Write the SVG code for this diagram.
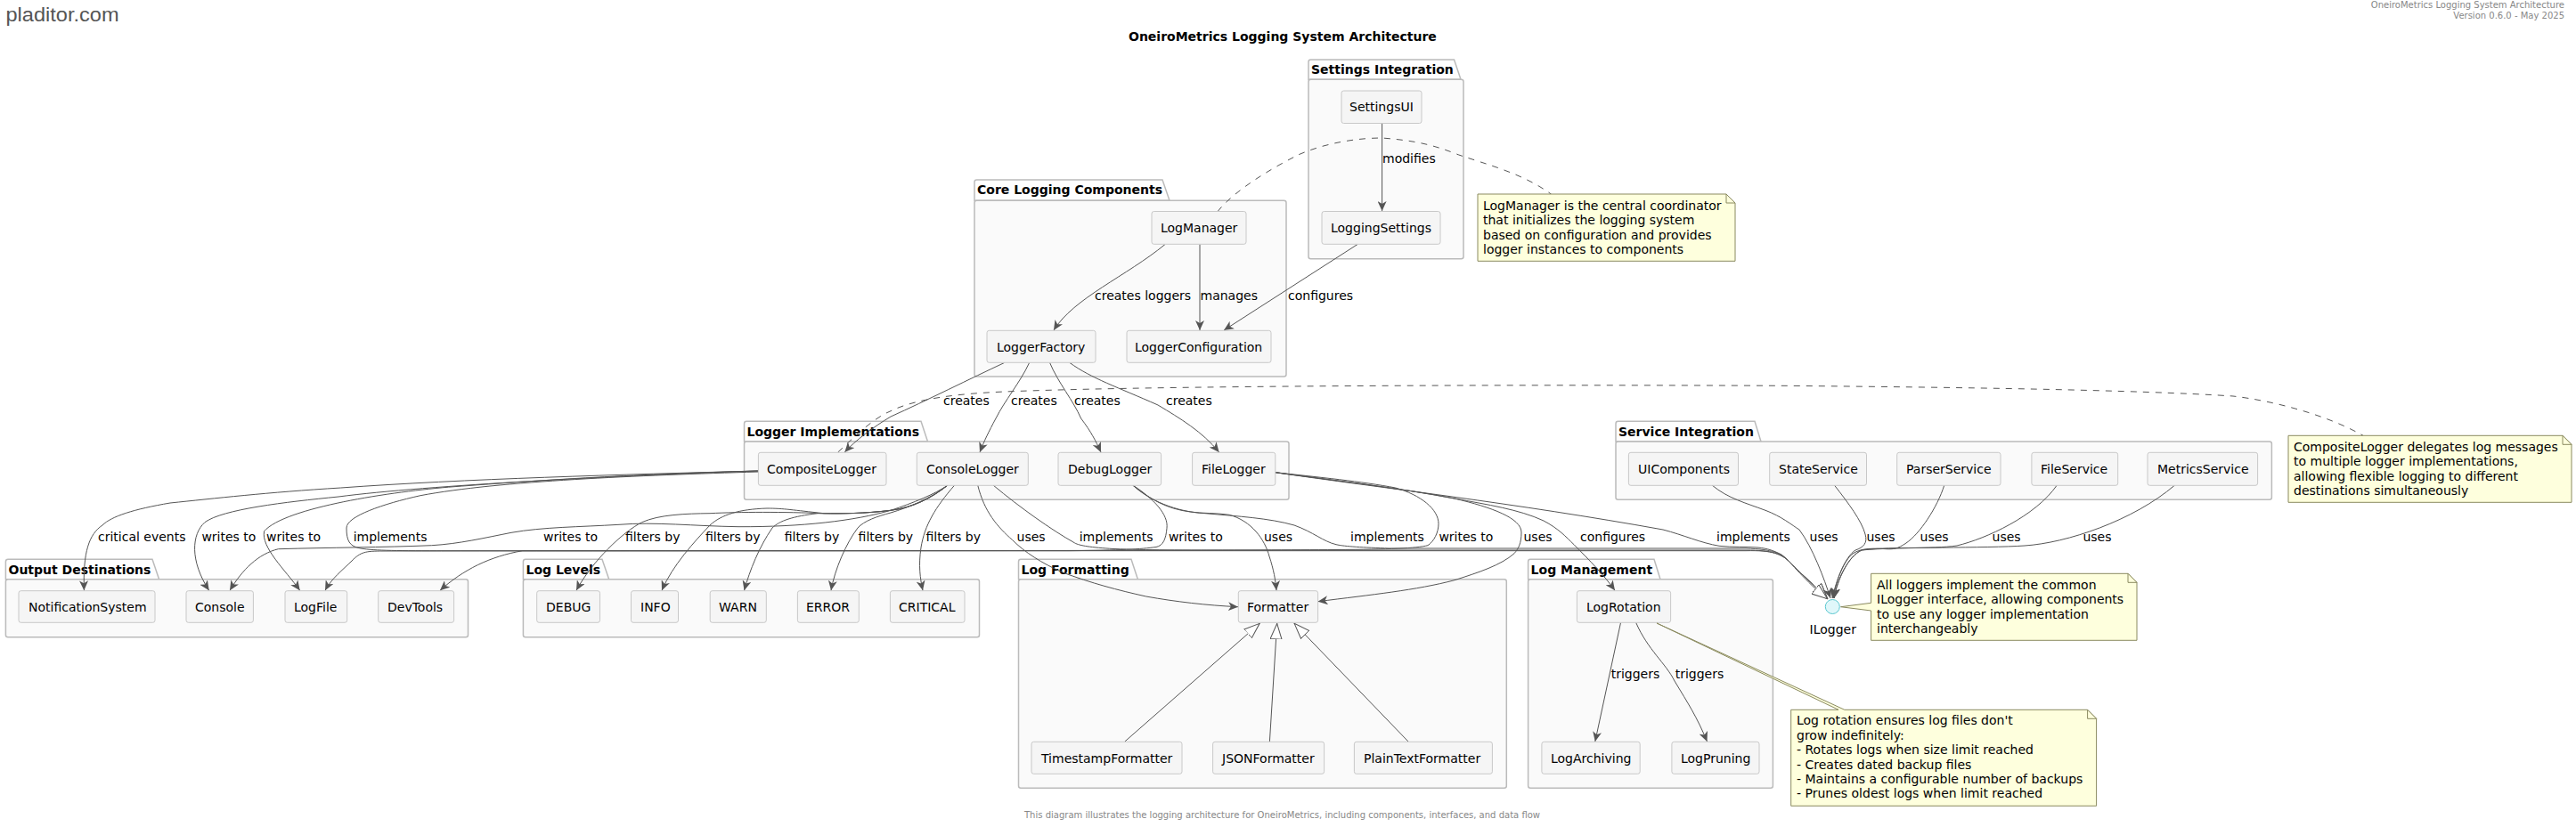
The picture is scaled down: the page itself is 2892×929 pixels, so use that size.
<svg xmlns="http://www.w3.org/2000/svg" width="2892" height="929" viewBox="0 0 2892 929">
<defs>
<style>
text{font-family:"DejaVu Sans",sans-serif;font-size:14px;fill:#000}
.pkg{fill:#FAFAFA;stroke:#BBB;stroke-width:1.5}
.tab{fill:#FEFEFE;stroke:#BBB;stroke-width:1.5}
.pt{font-weight:bold}
.n rect{fill:#F5F5F5;stroke:#C8C8C8;stroke-width:1}
.note{fill:#FEFFDD;stroke:#8A8A60;stroke-width:1}
.c path{fill:none;stroke:#555;stroke-width:1}
.c .d{stroke-dasharray:7,7;marker-end:none}
.a{marker-end:url(#ah)}
.h{marker-end:url(#tri)}
.g{font-size:10px;fill:#888}
</style>
<marker id="ah" viewBox="0 0 12 10" refX="11" refY="5" markerWidth="12" markerHeight="10" markerUnits="userSpaceOnUse" orient="auto"><path d="M0,0 L11,5 L0,10 L3,5 Z" fill="#555"/></marker>
<marker id="tri" viewBox="0 0 18 14" refX="18" refY="7" markerWidth="18" markerHeight="14" markerUnits="userSpaceOnUse" orient="auto"><path d="M0,0.5 L17.5,7 L0,13.5 Z" fill="#fff" stroke="#555"/></marker>
</defs>
<rect width="2892" height="929" fill="#fff"/>
<text x="6.5" y="24" style="font-family:'Liberation Sans',sans-serif;font-size:22.5px;fill:#555" textLength="127" lengthAdjust="spacingAndGlyphs">pladitor.com</text>
<text x="2879" y="9" text-anchor="end" class="g">OneiroMetrics Logging System Architecture</text>
<text x="2879" y="21" text-anchor="end" class="g">Version 0.6.0 - May 2025</text>
<text x="1267" y="46" class="pt">OneiroMetrics Logging System Architecture</text>
<text x="1150" y="919" class="g" textLength="579">This diagram illustrates the logging architecture for OneiroMetrics, including components, interfaces, and data flow</text>

<g id="pkg-settings"><path class="tab" d="M1469,89.3 V69.5 Q1469,67 1471.5,67 H1632.5 L1640,89.3 Z"/><rect class="pkg" x="1469" y="89.3" width="174" height="201.4" rx="2.5"/><text class="pt" x="1472" y="83">Settings Integration</text></g>
<g id="pkg-core"><path class="tab" d="M1094,225.3 V204.5 Q1094,202 1096.5,202 H1305 L1313,225.3 Z"/><rect class="pkg" x="1094" y="225.3" width="350" height="197.7" rx="2.5"/><text class="pt" x="1097" y="218">Core Logging Components</text></g>
<g id="pkg-impl"><path class="tab" d="M835.5,496 V476 Q835.5,473.3 838,473.3 H1034 L1041.5,496 Z"/><rect class="pkg" x="835.5" y="496" width="611.5" height="65.3" rx="2.5"/><text class="pt" x="838.5" y="490">Logger Implementations</text></g>
<g id="pkg-service"><path class="tab" d="M1814,496 V476 Q1814,473.3 1816.5,473.3 H1970 L1977,496 Z"/><rect class="pkg" x="1814" y="496" width="736.4" height="65.3" rx="2.5"/><text class="pt" x="1817" y="490">Service Integration</text></g>
<g id="pkg-output"><path class="tab" d="M6.4,650.7 V631 Q6.4,628.3 9,628.3 H171 L178.6,650.7 Z"/><rect class="pkg" x="6.4" y="650.7" width="519.1" height="65" rx="2.5"/><text class="pt" x="9.5" y="645">Output Destinations</text></g>
<g id="pkg-levels"><path class="tab" d="M587.4,650.7 V631 Q587.4,628.3 590,628.3 H676 L683.7,650.7 Z"/><rect class="pkg" x="587.4" y="650.7" width="512.1" height="65" rx="2.5"/><text class="pt" x="590.5" y="645">Log Levels</text></g>
<g id="pkg-format"><path class="tab" d="M1143.5,650.7 V631 Q1143.5,628.3 1146,628.3 H1270 L1277.4,650.7 Z"/><rect class="pkg" x="1143.5" y="650.7" width="547.8" height="234.6" rx="2.5"/><text class="pt" x="1146.5" y="645">Log Formatting</text></g>
<g id="pkg-mgmt"><path class="tab" d="M1715.6,650.7 V631 Q1715.6,628.3 1718,628.3 H1857 L1864,650.7 Z"/><rect class="pkg" x="1715.6" y="650.7" width="274.8" height="234.6" rx="2.5"/><text class="pt" x="1718.6" y="645">Log Management</text></g>

<g id="connectors" class="c">
<path class="a" d="M1551.6,138.5 V237"/>
<path class="a" d="M1308,274.5 C1265,310 1205,335 1183,371"/>
<path class="a" d="M1347,274.5 V371"/>
<path class="a" d="M1524,274.5 L1374,371"/>
<path class="d" d="M1367,237.5 C1385,215 1425,190 1459,173.3 C1490,160 1525,155 1551.6,155 C1590,158 1610,163 1637.8,174 C1670,185 1710,195 1741.7,218.3"/>
<path class="a" d="M1127.5,407.5 C1090,425 1040,450 1000,468 C980,480 960,495 948.3,508"/>
<path class="a" d="M1155.6,407.5 C1145,430 1128,450 1118,470 C1110,485 1105,495 1100,508"/>
<path class="a" d="M1178.6,407.5 C1188,430 1205,450 1213.6,470 C1225,485 1230,495 1236,508"/>
<path class="a" d="M1201,407.5 C1225,425 1255,435 1300,455 C1325,470 1350,485 1368.6,508"/>
<path class="d" d="M940.7,508 C960,490 980,470 1000,461.7 C1030,447 1080,442 1127.5,440 C1300,433 1700,432 2000,433.3 C2200,435 2400,438 2507,445 C2550,450 2610,465 2653,489.3"/>
<path class="a" d="M851,529 C700,533 520,538 382.6,548 C300,553 240,560 191,565 C150,572 125,580 115,590 C100,600 93,620 94.4,663.3"/>
<path class="a" d="M851,529 C700,534 480,545 380,558 C320,564 250,572 230,586.7 C215,600 213,630 234.7,663.3"/>
<path class="a" d="M851,529 C700,533 600,540 510,546.7 C440,552 320,570 296.6,596.7 C293,615 320,640 336.7,663.3"/>
<path class="h" d="M851,530 C720,534 560,540 472,556.7 C430,566 389,580 389,593 C389,607 392,614 405,616 C420,618.7 450,618.7 500,618.7 H1960 C1990,618 2000,622 2010,632 C2022,645 2040,660 2052,673"/>
<path class="a" d="M1064,545 C1050,555 1025,565 1000,573.3 C960,585 900,592 829,591.7 C780,591 735,586 695,589.3 C650,592 610,592 574,598.3 C545,604 515,611 484.7,612.7 C430,615 370,615 312.5,616.7 C290,622 272,640 258,663.3"/>
<path class="a" d="M1064,545 C1045,560 1025,570 1000,573.3 C970,577 945,577 925,576.7 C880,575 830,575 797,576.7 C770,577 740,578 720.7,586.7 C700,597 665,630 647,663.3"/>
<path class="a" d="M1064,545 C1045,560 1025,570 1000,573.3 C970,577 945,577 925,576.7 C890,573 880,571 861,571 C830,572 810,578 797,590 C780,608 755,635 743,663.3"/>
<path class="a" d="M1064,545 C1045,560 1025,570 1000,573.3 C970,577 945,577 918,576.7 C890,580 875,585 867,593 C852,615 842,640 835.5,663.3"/>
<path class="a" d="M1064,545 C1045,560 1020,570 1000,576 C985,580 970,585 963,593 C950,610 937,640 933,663.3"/>
<path class="a" d="M1071.7,545 C1050,570 1038,590 1034,615 C1031,635 1033,650 1036,663.3"/>
<path class="a" d="M1097.7,545 C1105,575 1120,592 1136.7,606.7 C1150,620 1170,633 1193,643 C1225,655 1255,663 1286.7,670 C1320,676 1355,680 1390,681.7"/>
<path class="h" d="M1115,545 C1145,570 1180,595 1206.7,610 C1212,613 1225,615 1250,616.5 C1290,618 1320,618 1400,618 H1960 C1990,618 2000,622 2010,632 C2022,645 2040,660 2052,673"/>
<path class="a" d="M1271.7,545 C1295,560 1312,578 1310,593.3 C1309,605 1306,613 1298,614.5 C1280,617 1260,618 1200,618.7 H586.7 C550,625 520,640 494,663.3"/>
<path class="a" d="M1271.7,545 C1290,560 1310,572 1336.7,575 C1350,577 1365,576 1380,578.3 C1405,585 1420,606 1425,625 C1430,640 1432,652 1433,663.3"/>
<path class="h" d="M1271.7,545 C1290,562 1320,575 1353,576.7 C1390,580 1425,582 1453,590 C1475,598 1485,608 1500,611.7 C1510,614 1530,615 1560,616 H1960 C1990,617 2000,621 2010,632 C2022,645 2040,660 2052,673"/>
<path class="a" d="M1431.8,530.7 C1480,536 1530,541 1566.7,548 C1595,556 1615,572 1615,588.3 C1615,598 1610,608 1603,612.7 C1590,616 1560,617 1500,617.5 C1300,618.7 900,618.7 430,619 C410,619 405,620 395,630 C385,640 372,650 365,663.3"/>
<path class="a" d="M1431.8,530.7 C1500,540 1570,548 1633,560 C1675,570 1708,582 1708,598 C1708,610 1705,616 1700,621.7 C1685,635 1660,643 1633,651.7 C1590,663 1540,668 1479.6,675.7"/>
<path class="a" d="M1431.8,530.7 C1500,540 1570,548 1633,560 C1670,567 1705,572 1733,585 C1750,594 1758,603 1767,611.7 C1785,630 1800,645 1813,663.3"/>
<path class="h" d="M1431.8,530.7 C1550,548 1700,565 1867,595 C1890,601 1910,610 1930,613.3 C1945,615 1960,614 1973,615 C1985,616 1992,619 2000,623 C2012,632 2025,652 2052,673"/>
<path class="a" d="M1922,545 C1940,560 1960,565 1982,573.3 C2000,580 2012,590 2020,595 C2035,615 2048,650 2055,672"/>
<path class="a" d="M2059.4,545 C2075,565 2090,585 2094,600 C2097,610 2092,615 2083,618 C2072,625 2062,650 2057,672"/>
<path class="a" d="M2182.8,545 C2175,570 2155,600 2140,610 C2130,617 2125,617 2118,616.7 C2105,616 2090,615 2080,622 C2070,630 2062,650 2058,672"/>
<path class="a" d="M2309.3,545 C2285,580 2230,605 2197,613 C2170,617 2115,614 2090,618 C2075,625 2063,650 2059,672"/>
<path class="a" d="M2441.6,545 C2395,585 2320,610 2273,613 C2230,616 2130,614 2090,618 C2075,625 2063,650 2059,672"/>
<path class="a" d="M1819.5,699.5 L1790.8,833"/>
<path class="a" d="M1836.7,699.5 C1850,730 1870,745 1880,765 C1895,790 1905,805 1916.5,833"/>
<path class="h" d="M1262.8,833 L1414.5,700"/>
<path class="h" d="M1425.4,833 L1433.7,700"/>
<path class="h" d="M1581,833 L1452.8,700"/>
</g>

<g id="edge-labels">
<text x="1552" y="183">modifies</text>
<text x="1229" y="337">creates loggers</text>
<text x="1347.5" y="337">manages</text>
<text x="1446" y="337">configures</text>
<text x="1059" y="455">creates</text><text x="1135" y="455">creates</text><text x="1206" y="455">creates</text><text x="1309" y="455">creates</text>
<text x="110" y="608">critical events</text><text x="226.4" y="608">writes to</text><text x="299" y="608">writes to</text><text x="396.7" y="608">implements</text>
<text x="610" y="608">writes to</text><text x="702" y="608">filters by</text><text x="792" y="608">filters by</text><text x="880.7" y="608">filters by</text><text x="963.6" y="608">filters by</text><text x="1039.5" y="608">filters by</text>
<text x="1141.6" y="608">uses</text><text x="1211.7" y="608">implements</text><text x="1311.9" y="608">writes to</text><text x="1419" y="608">uses</text><text x="1516" y="608">implements</text><text x="1615.4" y="608">writes to</text><text x="1710.5" y="608">uses</text><text x="1774" y="608">configures</text><text x="1927" y="608">implements</text>
<text x="2031.6" y="608">uses</text><text x="2095.5" y="608">uses</text><text x="2155.6" y="608">uses</text><text x="2236.6" y="608">uses</text><text x="2338.4" y="608">uses</text>
<text x="1808.7" y="762">triggers</text><text x="1880.7" y="762">triggers</text>
</g>

<g id="SettingsUI" class="n"><rect x="1506" y="102" width="90" height="36.5" rx="2.5"/><text x="1515" y="125">SettingsUI</text></g>
<g id="LoggingSettings" class="n"><rect x="1484" y="237.5" width="133" height="36.8" rx="2.5"/><text x="1494" y="261">LoggingSettings</text></g>
<g id="LogManager" class="n"><rect x="1293" y="237.5" width="106" height="36.8" rx="2.5"/><text x="1303" y="261">LogManager</text></g>
<g id="LoggerFactory" class="n"><rect x="1108" y="371.3" width="122" height="36" rx="2.5"/><text x="1119" y="395">LoggerFactory</text></g>
<g id="LoggerConfiguration" class="n"><rect x="1265" y="371.3" width="162" height="36" rx="2.5"/><text x="1274" y="395">LoggerConfiguration</text></g>
<g id="CompositeLogger" class="n"><rect x="851.4" y="508.3" width="143.6" height="37" rx="2.5"/><text x="861" y="532">CompositeLogger</text></g>
<g id="ConsoleLogger" class="n"><rect x="1029.3" y="508.3" width="125" height="37" rx="2.5"/><text x="1040" y="532">ConsoleLogger</text></g>
<g id="DebugLogger" class="n"><rect x="1188" y="508.3" width="115.6" height="37" rx="2.5"/><text x="1199" y="532">DebugLogger</text></g>
<g id="FileLogger" class="n"><rect x="1338.6" y="508.3" width="93.2" height="37" rx="2.5"/><text x="1349" y="532">FileLogger</text></g>
<g id="UIComponents" class="n"><rect x="1828.4" y="508.3" width="123.1" height="37" rx="2.5"/><text x="1839" y="532">UIComponents</text></g>
<g id="StateService" class="n"><rect x="1986.7" y="508.3" width="108.8" height="37" rx="2.5"/><text x="1997" y="532">StateService</text></g>
<g id="ParserService" class="n"><rect x="2129.7" y="508.3" width="116.3" height="37" rx="2.5"/><text x="2140" y="532">ParserService</text></g>
<g id="FileService" class="n"><rect x="2280.9" y="508.3" width="96.8" height="37" rx="2.5"/><text x="2291" y="532">FileService</text></g>
<g id="MetricsService" class="n"><rect x="2411" y="508.3" width="123.6" height="37" rx="2.5"/><text x="2422" y="532">MetricsService</text></g>
<g id="NotificationSystem" class="n"><rect x="21" y="663.7" width="153" height="35.6" rx="2.5"/><text x="32" y="687">NotificationSystem</text></g>
<g id="Console" class="n"><rect x="209" y="663.7" width="75.4" height="35.6" rx="2.5"/><text x="219" y="687">Console</text></g>
<g id="LogFile" class="n"><rect x="320" y="663.7" width="69.7" height="35.6" rx="2.5"/><text x="330" y="687">LogFile</text></g>
<g id="DevTools" class="n"><rect x="424.7" y="663.7" width="84.9" height="35.6" rx="2.5"/><text x="435" y="687">DevTools</text></g>
<g id="DEBUG" class="n"><rect x="602.7" y="663.7" width="70.8" height="35.6" rx="2.5"/><text x="613" y="687">DEBUG</text></g>
<g id="INFO" class="n"><rect x="708.5" y="663.7" width="53" height="35.6" rx="2.5"/><text x="719" y="687">INFO</text></g>
<g id="WARN" class="n"><rect x="797.2" y="663.7" width="63.1" height="35.6" rx="2.5"/><text x="807" y="687">WARN</text></g>
<g id="ERROR" class="n"><rect x="895.4" y="663.7" width="68.9" height="35.6" rx="2.5"/><text x="905" y="687">ERROR</text></g>
<g id="CRITICAL" class="n"><rect x="999.4" y="663.7" width="83.6" height="35.6" rx="2.5"/><text x="1009" y="687">CRITICAL</text></g>
<g id="Formatter" class="n"><rect x="1390.3" y="663.7" width="89.3" height="35.6" rx="2.5"/><text x="1400" y="687">Formatter</text></g>
<g id="LogRotation" class="n"><rect x="1770.4" y="663.7" width="105.2" height="35.6" rx="2.5"/><text x="1781" y="687">LogRotation</text></g>
<g id="TimestampFormatter" class="n"><rect x="1158" y="833.3" width="169" height="36" rx="2.5"/><text x="1169" y="857">TimestampFormatter</text></g>
<g id="JSONFormatter" class="n"><rect x="1361.6" y="833.3" width="125" height="36" rx="2.5"/><text x="1372" y="857">JSONFormatter</text></g>
<g id="PlainTextFormatter" class="n"><rect x="1520.4" y="833.3" width="155" height="36" rx="2.5"/><text x="1531" y="857">PlainTextFormatter</text></g>
<g id="LogArchiving" class="n"><rect x="1730.9" y="833.3" width="110.3" height="36" rx="2.5"/><text x="1741" y="857">LogArchiving</text></g>
<g id="LogPruning" class="n"><rect x="1876.9" y="833.3" width="98.1" height="36" rx="2.5"/><text x="1887" y="857">LogPruning</text></g>
<g id="ILogger"><circle cx="2057.3" cy="681.5" r="8" fill="#E0F7FA" stroke="#5CC8D0"/><text x="2031.6" y="711.5">ILogger</text></g>

<g id="note-manager"><path class="note" d="M1659,218 H1938 L1948,228 V293.3 H1659 Z"/><path class="note" d="M1938,218 V228 H1948 Z"/><text x="1665" y="235.5">LogManager is the central coordinator</text><text x="1665" y="252">that initializes the logging system</text><text x="1665" y="268.5">based on configuration and provides</text><text x="1665" y="284.5">logger instances to components</text></g>
<g id="note-composite"><path class="note" d="M2569,489.3 H2877 L2887,499.3 V564.3 H2569 Z"/><path class="note" d="M2877,489.3 V499.3 H2887 Z"/><text x="2575" y="506.5">CompositeLogger delegates log messages</text><text x="2575" y="523">to multiple logger implementations,</text><text x="2575" y="539.5">allowing flexible logging to different</text><text x="2575" y="555.5">destinations simultaneously</text></g>
<g id="note-ilogger"><path class="note" d="M2100.6,644.3 H2389 L2399,654.3 V719.3 H2100.6 V686 L2066.5,681.7 L2100.6,677.3 Z"/><path class="note" d="M2389,644.3 V654.3 H2399 Z"/><text x="2107" y="661.5">All loggers implement the common</text><text x="2107" y="678">ILogger interface, allowing components</text><text x="2107" y="694.5">to use any logger implementation</text><text x="2107" y="710.5">interchangeably</text></g>
<g id="note-rotation"><path class="note" d="M2010.7,797.3 H2064 L1860,700 L2070.8,797.3 H2343.6 L2353.6,807.3 V905.3 H2010.7 Z"/><path class="note" d="M2343.6,797.3 V807.3 H2353.6 Z"/><text x="2017" y="814">Log rotation ensures log files don't</text><text x="2017" y="831">grow indefinitely:</text><text x="2017" y="847">- Rotates logs when size limit reached</text><text x="2017" y="863.5">- Creates dated backup files</text><text x="2017" y="880">- Maintains a configurable number of backups</text><text x="2017" y="896">- Prunes oldest logs when limit reached</text></g>
</svg>
